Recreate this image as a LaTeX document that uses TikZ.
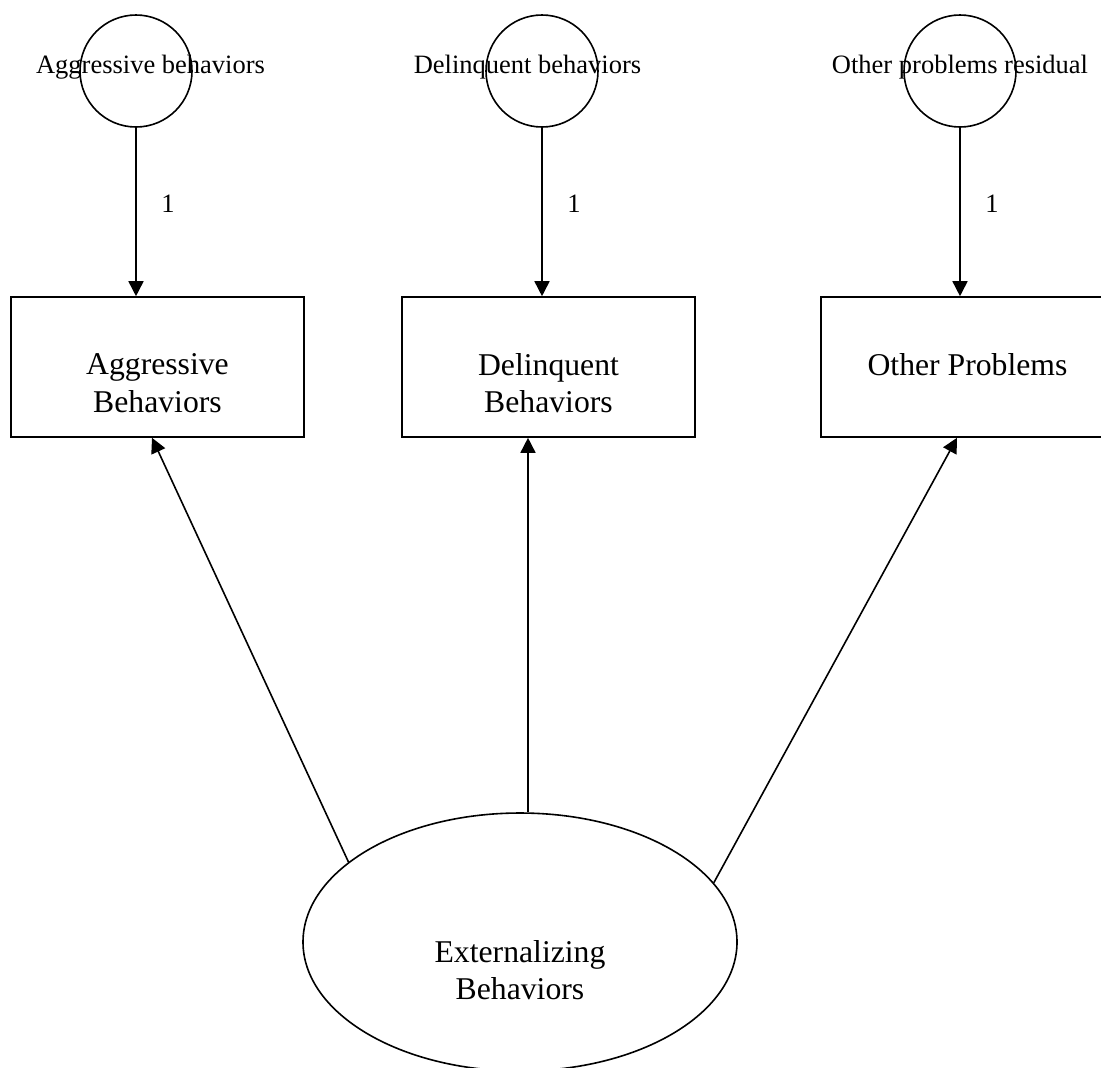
\documentclass[tikz,border=0pt]{standalone}
\usepackage{fontspec}
\setmainfont{Liberation Serif}
\usetikzlibrary{arrows.meta,shapes.geometric}

\begin{document}
\begin{tikzpicture}[x=0.5pt,y=-0.5pt,line width=0.8pt,
  errc/.style={draw,circle,minimum size=56pt,inner sep=0pt},
  obsbox/.style={draw,rectangle,minimum width=146.5pt,minimum height=70pt,inner sep=0pt},
  latent/.style={draw,ellipse,minimum width=217pt,minimum height=129pt,inner sep=0pt},
  smalltxt/.style={font=\fontsize{13.25}{16}\selectfont},
  bigtxt/.style={font=\fontsize{15.85}{18.75}\selectfont,align=center},
  arr/.style={-{Triangle[length=7.5pt,width=7.5pt]}}]
  \useasboundingbox (0,0) rectangle (1101,1067);

  % residuals
  \node[errc] (e1) at (136,71) {};
  \node[errc] (e2) at (542,71) {};
  \node[errc] (e3) at (960,71) {};
  \node[smalltxt,anchor=base] (e1lbl) at (150.5,73) {Aggressive behaviors};
  \node[smalltxt,anchor=base] (e2lbl) at (527.5,73) {Delinquent behaviors};
  \node[smalltxt,anchor=base] (e3lbl) at (960,73) {Other problems residual};

  % observed
  \node[obsbox] (agg) at (157.5,367) {};
  \node[obsbox] (del) at (548.5,367) {};
  \node[obsbox] (oth) at (967.5,367) {};
  \node[bigtxt] (aggtxt) at (157.5,383) {Aggressive\\Behaviors};
  \node[bigtxt] (deltxt) at (548.5,383) {Delinquent\\Behaviors};
  \node[bigtxt,anchor=base] (othtxt) at (967.5,375) {Other Problems};

  % latent
  \node[latent] (ext) at (520,942) {};
  \node[bigtxt] (exttxt) at (520,970) {Externalizing\\Behaviors};

  \draw[arr] (e1.south) -- (e1.south |- agg.north)
    node[smalltxt,pos=0.5,anchor=base west,xshift=9pt]{1};
  \draw[arr] (e2.south) -- (e2.south |- del.north)
    node[smalltxt,pos=0.5,anchor=base west,xshift=9pt]{1};
  \draw[arr] (e3.south) -- (e3.south |- oth.north)
    node[smalltxt,pos=0.5,anchor=base west,xshift=9pt]{1};

  \draw[arr] (ext.155) -- ([xshift=-2.75pt]agg.south);
  \draw[arr] ([xshift=-10.25pt]del.south |- ext.north) -- ([xshift=-10.25pt]del.south);
  \draw[arr] (ext.17.5) -- ([xshift=-5.25pt]oth.south);
\end{tikzpicture}
\end{document}
